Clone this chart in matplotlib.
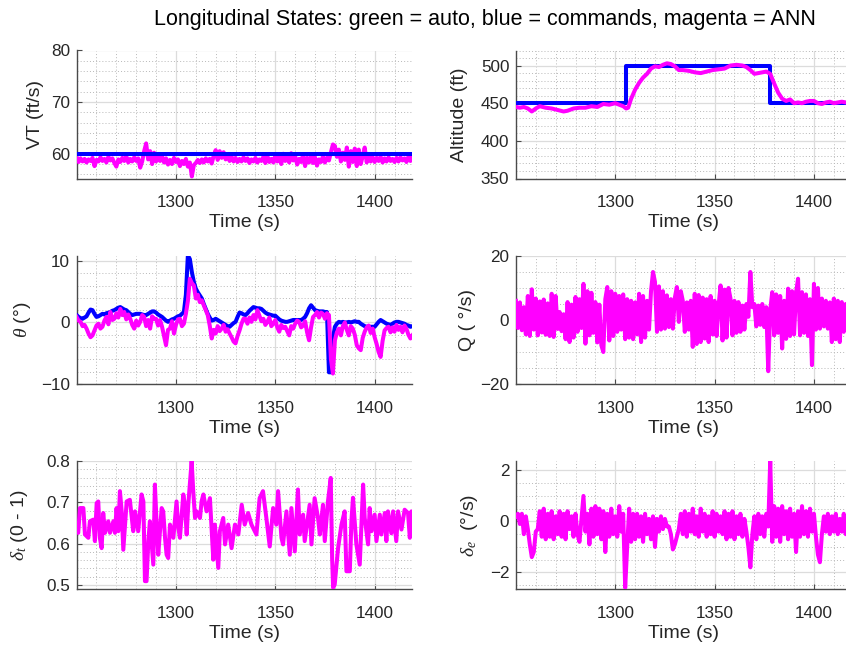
import numpy as np
import matplotlib
matplotlib.use("Agg")
import matplotlib.pyplot as plt
from matplotlib.ticker import MultipleLocator, FixedLocator

plt.rcParams['font.family'] = ['Liberation Sans', 'DejaVu Sans']
plt.rcParams['mathtext.fontset'] = 'custom'
plt.rcParams['mathtext.rm'] = 'Liberation Sans'
plt.rcParams['mathtext.it'] = 'Liberation Serif:italic'

# ---------------- data ----------------
time = np.arange(1250, 1420)  # 1 s samples

vt_ann = [
    59.3, 58.4, 59.1, 58.5, 59.0, 58.3, 58.9, 58.6, 59.2, 57.6,
    58.8, 58.5, 59.3, 58.6, 59.0, 58.3, 59.4, 58.7, 59.1, 58.2,
    57.5, 58.9, 58.4, 59.2, 58.6, 59.5, 58.3, 59.0, 58.5, 59.3,
    58.6, 59.1, 57.3, 58.5, 60.5, 62.0, 58.9, 60.5, 58.0, 60.2,
    58.5, 59.8, 58.6, 59.5, 58.3, 59.1, 57.9, 58.8, 58.0, 59.2,
    58.4, 58.9, 57.6, 58.6, 58.0, 59.0, 57.5, 58.3, 55.6, 57.8,
    58.2, 58.8, 58.2, 58.9, 58.3, 59.1, 58.5, 59.0, 58.1, 59.6,
    60.7, 58.8, 60.5, 59.2, 60.3, 58.9, 59.8, 58.6, 59.4, 58.5,
    59.2, 58.4, 59.0, 58.5, 59.3, 58.6, 59.1, 58.2, 58.9, 58.5,
    59.2, 58.3, 58.9, 58.6, 59.4, 58.2, 59.5, 58.4, 59.0, 58.3,
    59.6, 58.5, 59.3, 58.0, 60.0, 58.6, 59.2, 58.3, 60.1, 58.7,
    59.5, 57.9, 59.0, 58.4, 59.8, 57.6, 59.2, 58.3, 59.6, 58.2,
    59.3, 57.7, 58.9, 58.4, 59.5, 58.3, 59.2, 58.7, 60.3, 61.8,
    61.5, 59.4, 60.8, 58.5, 60.2, 58.8, 61.2, 57.5, 60.5, 58.4,
    61.0, 57.6, 60.8, 58.0, 59.5, 61.2, 58.3, 59.7, 58.5, 59.3,
    58.4, 59.2, 58.6, 59.4, 58.3, 59.1, 58.5, 59.3, 58.6, 59.0,
    58.4, 59.2, 58.5, 59.3, 58.7, 59.1, 58.4, 59.4, 58.6, 59.6,
]
vt_cmd = 60.0

alt_cmd_t = [1250, 1305.2, 1378.1, 1420]
alt_cmd = [450, 500, 450, 450]

alt_t = [1250, 1252, 1254, 1256, 1258, 1260, 1262, 1265, 1268, 1271,
         1274, 1276, 1279, 1282, 1285, 1288, 1291, 1294, 1297, 1300,
         1302, 1304, 1305.5, 1306.5, 1308, 1310, 1312, 1314, 1316, 1318,
         1320, 1322, 1324, 1326, 1328, 1330, 1332, 1334, 1337, 1340,
         1343, 1346, 1349, 1352, 1355, 1358, 1361, 1364, 1366, 1368,
         1370, 1372, 1374, 1376, 1378, 1380, 1382, 1384, 1386, 1388,
         1390, 1392, 1394, 1396, 1398, 1400, 1402, 1404, 1406, 1408,
         1410, 1412, 1414, 1416, 1419]
alt_ann = [445, 444, 445, 443, 439, 443, 446, 444, 443, 441,
           439, 440, 443, 444, 444, 446, 445, 449, 448, 450,
           448, 446, 443, 444, 456, 468, 477, 484, 489, 496,
           499, 498, 501, 503, 502, 499, 494, 494, 493, 491,
           490, 492, 494, 495, 496, 500, 501, 500, 498, 494,
           489, 490, 491, 492, 489, 476, 464, 456, 453, 455,
           450, 451, 450, 452, 453, 453, 450, 449, 451, 452,
           450, 451, 452, 451, 451]

theta_cmd = [
    1.2, 0.9, 0.7, 0.6, 0.8, 1.0, 1.6, 2.1, 2.0, 1.4,
    0.9, 1.0, 1.2, 1.4, 1.3, 1.5, 1.6, 1.7, 1.9, 2.0,
    2.2, 2.4, 2.5, 2.3, 2.1, 2.0, 1.7, 1.4, 1.2, 1.3,
    1.4, 1.4, 1.4, 1.3, 1.2, 1.2, 1.4, 1.6, 1.8, 1.8,
    1.6, 1.3, 1.1, 0.9, 0.6, 0.3, 0.1, 0.3, 0.5, 0.6,
    0.8, 1.0, 1.1, 1.4, 1.7, 4.5, 10.9, 10.3, 8.2, 6.6,
    5.5, 4.9, 4.4, 3.9, 3.0, 2.2, 1.4, 0.8, 0.3, 0.4,
    0.6, 0.4, 0.2, 0.0, -0.2, -0.4, -0.6, -0.7, -0.4, -0.1,
    0.1, 0.9, 1.6, 1.5, 1.3, 1.2, 1.5, 1.9, 2.2, 2.5,
    2.4, 2.3, 2.3, 2.2, 1.9, 1.6, 1.4, 1.3, 1.2, 1.1,
    1.1, 0.8, 0.5, 0.3, 0.2, 0.1, 0.1, 0.2, 0.3, 0.4,
    0.4, 0.4, 0.4, 0.4, 0.6, 0.9, 1.5, 2.3, 2.8, 2.4,
    2.0, 1.9, 1.8, 1.8, 1.8, 1.7, 1.7, -8.1, -8.1, -2.6,
    -0.7, -0.2, 0.1, 0.0, 0.1, 0.0, 0.0, 0.1, 0.0, 0.1,
    0.2, 0.1, 0.1, -0.2, -0.4, -0.6, -0.7, -0.7, -0.7, -0.7,
    -0.7, -0.3, 0.1, 0.4, 0.2, 0.0, -0.2, -0.3, -0.4, -0.2,
    0.0, 0.1, 0.1, 0.0, -0.1, -0.2, -0.4, -0.5, -0.7, -0.6,
]
theta_ann = [
    0.9, 0.3, 0.1, -0.6, -0.4, -1.0, -1.8, -2.4, -2.1, -1.3,
    -0.5, -0.2, -1.0, -0.7, 0.3, 0.9, -0.3, 1.7, 0.4, 0.6,
    1.5, 0.8, 2.2, 1.2, 1.7, 0.5, 1.3, 0.6, -0.4, -1.0,
    0.3, -0.5, 0.1, 1.2, 0.9, -0.6, 0.4, -1.0, 1.0, 0.6,
    0.6, -0.5, 0.4, -0.7, -2.2, -3.7, -1.2, -1.0, 0.2, -1.8,
    -0.4, 0.5, 0.6, -0.6, -0.2, 1.4, 3.5, 7.1, 6.4, 6.0,
    3.9, 4.5, 3.3, 3.6, 2.8, 2.0, 1.2, -0.5, -2.6, -1.2,
    -1.8, -0.6, -1.4, -1.0, -0.4, -1.5, -1.1, -1.8, -2.4, -3.1,
    -3.4, -2.2, -1.3, -0.2, 0.6, 0.6, -0.2, 0.8, 0.1, 1.2,
    0.5, 2.0, 1.1, 0.2, 0.6, -0.4, 0.1, 0.8, -0.6, -0.2,
    0.4, -0.8, -1.5, -0.4, -0.9, -0.7, -1.4, -2.1, -0.6, -1.0,
    -0.2, 0.3, 0.1, -0.8, -0.5, 0.2, -1.6, -2.9, -0.8, 0.9,
    1.2, 1.7, 0.8, 1.6, 1.4, 0.6, 1.5, 1.2, -6.0, -8.3,
    -2.9, -1.6, -1.0, -2.1, -0.6, 0.0, -1.2, -2.1, -0.6, -1.0,
    -2.0, -3.7, -4.2, -4.5, -2.5, -1.5, -0.8, -0.5, -1.7, -1.0,
    -2.4, -3.5, -4.8, -5.6, -3.0, -1.3, -0.9, -0.7, -1.6, -0.8,
    -1.5, -0.4, -1.2, -0.7, -1.6, -0.5, -1.0, -2.0, -2.6, -2.1,
]

q_ann = [
    6.0, -2.5, 5.5, -3.2, 4.0, -4.5, 7.5, -5.0, 9.6, -3.0,
    6.7, -4.8, 5.8, -3.9, 6.4, -4.6, 5.2, -5.0, 8.2, -5.3,
    7.5, -2.8, 2.5, -3.5, 1.8, -6.0, 5.6, -6.9, 4.8, -5.5,
    7.2, -3.7, 6.5, -2.5, 11.3, -7.4, 9.0, -4.8, 8.5, -4.0,
    5.6, -7.0, 4.8, -7.9, -10.0, 6.5, 10.3, -6.4, 9.0, -5.0,
    8.2, -3.7, 7.5, -3.0, 8.0, -6.0, 6.5, -5.5, 6.0, -6.0,
    5.5, -4.5, 8.2, -6.9, 7.5, -5.5, 6.0, -3.0, 9.0, 15.0,
    11.9, -3.7, 10.5, -3.0, 9.0, -2.7, 7.7, -2.2, 6.5, -2.7,
    7.0, 10.3, -0.6, 9.0, 6.0, -3.7, 5.5, -3.0, 6.0, -8.4,
    8.2, -7.5, 7.8, -6.9, 7.0, -5.8, 6.5, -6.9, 7.5, -4.5,
    6.0, -5.0, 4.5, 10.8, -6.4, 9.5, -5.5, 10.0, 6.7, -4.8,
    6.0, -4.0, 5.6, -3.7, 4.5, -3.0, 5.0, 1.0, 15.0, 4.0,
    5.0, -2.0, 4.5, -1.5, 5.0, -2.2, 4.0, -16.0, 3.0, 8.7,
    -4.8, 8.0, -4.0, 7.5, -8.9, 6.0, -5.9, 9.8, -5.0, 9.0,
    -4.5, 8.5, 12.9, -4.8, 8.7, -4.0, 8.0, -5.0, 6.5, -14.1,
    11.3, -3.0, 10.0, -2.7, 6.7, -2.0, 6.0, -2.7, 5.5, -6.9,
    6.7, -6.0, 6.0, -6.9, 5.6, -3.7, 5.0, -3.5, 5.6, 0.5,
]

dt_t = [1250.0, 1250.8, 1251.7, 1253.4, 1254.2, 1255.9, 1256.7, 1258.4, 1259.2, 1260.1,
        1260.9, 1261.7, 1262.6, 1263.4, 1264.3, 1265.9, 1266.8, 1268.5, 1269.3, 1270.1,
        1271.0, 1271.8, 1272.7, 1273.5, 1275.2, 1276.8, 1278.5, 1279.4, 1281.0, 1282.7,
        1283.6, 1284.4, 1285.2, 1286.1, 1286.9, 1288.6, 1289.4, 1290.3, 1291.1, 1292.8,
        1293.6, 1294.5, 1295.3, 1296.1, 1297.0, 1298.7, 1300.3, 1301.2, 1302.0, 1303.7,
        1304.5, 1305.4, 1306.2, 1307.9, 1308.7, 1309.6, 1310.4, 1312.1, 1312.9, 1313.8,
        1315.4, 1317.1, 1318.8, 1319.6, 1321.3, 1322.1, 1323.8, 1324.7, 1326.3, 1328.0,
        1329.7, 1331.4, 1333.1, 1334.6, 1336.3, 1338.0, 1340.5, 1342.1, 1343.8, 1345.5,
        1347.2, 1348.9, 1350.5, 1351.4, 1353.1, 1353.9, 1355.6, 1357.3, 1358.1, 1359.8,
        1361.4, 1362.3, 1364.0, 1364.8, 1367.3, 1368.2, 1369.8, 1371.5, 1372.4, 1374.0,
        1374.9, 1376.5, 1377.9, 1378.6, 1379.1, 1379.9, 1381.6, 1383.3, 1384.9, 1385.8,
        1387.5, 1388.3, 1389.1, 1390.8, 1392.5, 1394.2, 1395.0, 1396.7, 1397.5, 1398.4,
        1400.0, 1400.9, 1402.6, 1403.4, 1405.1, 1405.9, 1406.7, 1408.4, 1409.3, 1410.9,
        1411.8, 1413.5, 1415.1, 1416.8, 1417.7, 1418.5, 1419.3]
dt_ann = [0.642, 0.626, 0.686, 0.686, 0.622, 0.614, 0.654, 0.658, 0.606, 0.698,
          0.702, 0.614, 0.589, 0.674, 0.626, 0.654, 0.626, 0.654, 0.626, 0.686,
          0.630, 0.727, 0.678, 0.585, 0.702, 0.706, 0.630, 0.678, 0.630, 0.719,
          0.702, 0.509, 0.509, 0.606, 0.654, 0.549, 0.743, 0.646, 0.573, 0.686,
          0.678, 0.614, 0.573, 0.565, 0.646, 0.614, 0.702, 0.638, 0.614, 0.719,
          0.694, 0.622, 0.694, 0.800, 0.727, 0.662, 0.678, 0.662, 0.702, 0.719,
          0.678, 0.710, 0.561, 0.646, 0.541, 0.630, 0.662, 0.598, 0.646, 0.589,
          0.646, 0.622, 0.694, 0.646, 0.674, 0.646, 0.622, 0.710, 0.727, 0.662,
          0.593, 0.686, 0.646, 0.727, 0.614, 0.598, 0.678, 0.573, 0.686, 0.581,
          0.731, 0.622, 0.670, 0.606, 0.694, 0.598, 0.710, 0.662, 0.622, 0.694,
          0.606, 0.702, 0.759, 0.565, 0.493, 0.501, 0.589, 0.646, 0.678, 0.533,
          0.533, 0.654, 0.711, 0.598, 0.549, 0.743, 0.662, 0.598, 0.686, 0.630,
          0.670, 0.606, 0.670, 0.622, 0.674, 0.606, 0.678, 0.625, 0.678, 0.606,
          0.678, 0.634, 0.682, 0.674, 0.614, 0.678, 0.638]

de_ann = [
    0.2, 0.3, -0.1, 0.3, -0.5, 0.2, -0.3, -0.9, -1.4, -1.2,
    -0.4, -0.3, 0.4, -0.6, 0.5, -0.7, 0.3, -0.6, 0.4, -0.7,
    0.2, -0.5, 0.4, -0.6, 0.3, -0.7, 0.4, -0.3, 0.2, -0.6,
    0.3, -0.5, -0.8, 0.1, 1.0, -0.4, 0.3, -0.9, 0.5, -0.6,
    0.6, -0.5, 0.5, -0.7, 0.4, -1.2, 0.3, -0.6, 0.5, -0.5,
    0.2, -0.6, 0.6, -0.4, 0.3, -2.6, -1.0, 0.5, -0.8, 0.3,
    -0.7, 0.3, -0.6, 0.2, -0.8, 0.3, -0.5, 0.1, -0.7, 0.2,
    -1.0, 0.1, -0.4, 0.2, -0.3, 0.1, -0.2, -0.2, -0.5, -1.1,
    -0.9, -0.6, -0.3, 0.3, -0.5, 0.4, -0.6, 0.3, -0.4, 0.5,
    -0.5, 0.2, -0.6, 0.5, -0.4, 0.3, -0.6, 0.2, -0.5, 0.4,
    -0.6, 0.3, -0.4, 0.2, -0.5, 0.4, -0.7, 0.3, -0.6, 0.4,
    -0.7, 0.2, -0.5, 0.3, -0.6, 0.1, -0.4, -1.0, -1.8, -0.5,
    0.2, -0.7, 0.3, -0.5, 0.2, -0.6, 0.3, -0.2, 2.4, -0.8,
    0.6, -0.6, 0.5, -0.8, 0.6, -0.5, 0.4, -0.7, 0.5, -0.6,
    0.3, -1.2, 0.4, -0.6, 0.6, -0.5, 0.4, -0.6, 0.5, -0.4,
    0.3, -0.6, -1.3, -1.6, -0.5, 0.2, -0.4, 0.3, -0.5, 0.2,
    -0.4, 0.3, -0.5, 0.1, -0.4, 0.3, -0.5, 0.2, -0.3, 0.3,
]

time_ticks = [1300, 1350, 1400]

# ---------------- styling ----------------
BLUE = '#0000ff'
MAGENTA = '#ff00ff'
TXT = '#262626'
LW = 2.9
XLIM = (1250.2, 1418.8)

fig = plt.figure(figsize=(8.46, 6.5), dpi=100)
W, H = 846.0, 650.0
col_x = [77.0, 516.3]
row_y = [(50.5, 178.5), (256.0, 384.0), (461.0, 589.0)]
ax_w = 335.0


def make_ax(r, c):
    top, bot = row_y[r]
    return fig.add_axes([col_x[c] / W, (H - bot) / H, ax_w / W, (bot - top) / H])


def style(ax, ylim, ymaj, ymin, ylabel, ylab_x):
    ax.set_xlim(*XLIM)
    ax.set_ylim(*ylim)
    ax.xaxis.set_major_locator(FixedLocator(time_ticks))
    ax.xaxis.set_minor_locator(MultipleLocator(10))
    ax.yaxis.set_major_locator(MultipleLocator(ymaj))
    ax.yaxis.set_minor_locator(MultipleLocator(ymin))
    ax.grid(which='major', color='#dcdcdc', linewidth=0.9, linestyle='-')
    ax.grid(which='minor', color='#b8b8b8', linewidth=0.7, linestyle=(0, (1, 2.2)))
    ax.set_axisbelow(True)
    for s in ('top', 'right'):
        ax.spines[s].set_visible(False)
    for s in ('left', 'bottom'):
        ax.spines[s].set_color('#4a4a4a')
        ax.spines[s].set_linewidth(1.0)
    ax.tick_params(which='major', direction='in', length=3.5, width=0.8,
                   color='#4a4a4a', labelcolor=TXT, labelsize=12.3)
    ax.tick_params(axis='x', which='major', pad=12)
    ax.tick_params(axis='y', which='major', pad=5)
    ax.tick_params(which='minor', length=0)
    ax.set_xlabel('Time (s)', fontsize=14, color=TXT, labelpad=3)
    ax.set_ylabel(ylabel, fontsize=14, color=TXT)
    ax.yaxis.set_label_coords(ylab_x, 0.5)


# VT
ax = make_ax(0, 0)
ax.plot(time, vt_ann, color=MAGENTA, lw=LW, zorder=3)
ax.axhline(vt_cmd, color=BLUE, lw=LW, zorder=4)
style(ax, (55.2, 80), 10, 2, 'VT (ft/s)', -0.10)

# Altitude
ax = make_ax(0, 1)
ax.plot(alt_cmd_t, alt_cmd, color=BLUE, lw=LW, drawstyle='steps-post', zorder=3)
ax.plot(alt_t, alt_ann, color=MAGENTA, lw=LW, zorder=4)
style(ax, (350, 520), 50, 10, 'Altitude (ft)', -0.144)

# theta
ax = make_ax(1, 0)
ax.plot(time, theta_cmd, color=BLUE, lw=LW, zorder=3)
ax.plot(time, theta_ann, color=MAGENTA, lw=LW, zorder=4)
style(ax, (-10, 10.8), 10, 2, r'$\theta$ (°)', -0.13)

# Q
ax = make_ax(1, 1)
ax.plot(time, q_ann, color=MAGENTA, lw=LW, zorder=4)
style(ax, (-20, 20), 20, 5, 'Q ( °/s)', -0.12)

# delta_t
ax = make_ax(2, 0)
ax.plot(dt_t, dt_ann, color=MAGENTA, lw=LW, zorder=4)
style(ax, (0.49, 0.80), 0.1, 0.02, r'$\delta_t$ (0 - 1)', -0.14)

# delta_e
ax = make_ax(2, 1)
ax.plot(time, de_ann, color=MAGENTA, lw=LW, zorder=4)
style(ax, (-2.65, 2.37), 2, 0.5, r'$\delta_e$  (°/s)', -0.108)

fig.text(485 / W, 1 - 19 / H, 'Longitudinal States: green = auto, blue = commands, magenta = ANN',
         ha='center', va='center', fontsize=15.5, color='#000000')

fig.savefig('out.png', dpi=100)
